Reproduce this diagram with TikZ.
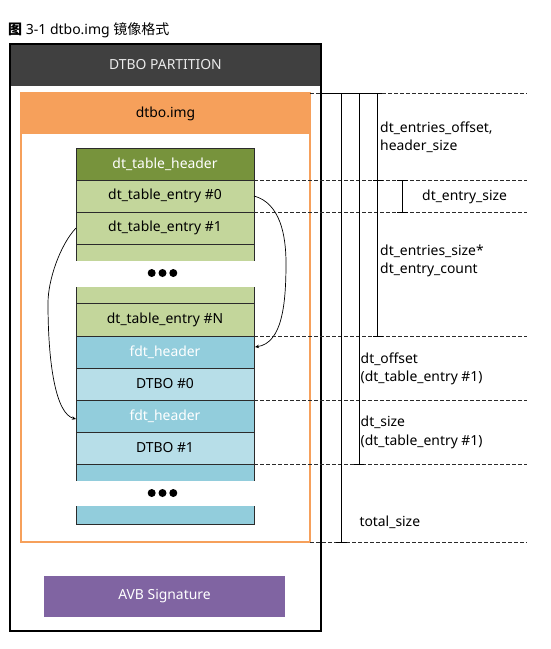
\documentclass[tikz,border=0pt]{standalone}
\usepackage{fontspec}
\setmainfont{Noto Sans}
\newfontfamily\cjk{Noto Sans CJK SC}
\usetikzlibrary{arrows.meta,calc}
\definecolor{darkhdr}{HTML}{404040}
\definecolor{orng}{HTML}{F6A05B}
\definecolor{dgreen}{HTML}{77933C}
\definecolor{lgreen}{HTML}{C3D69B}
\definecolor{bhdr}{HTML}{92CDDC}
\definecolor{lblue}{HTML}{B7DEE8}
\definecolor{purp}{HTML}{8064A2}
\definecolor{edge}{HTML}{2B2B2B}
\tikzset{
  txt/.style={font=\fontsize{13.9}{18.3}\selectfont},
  row/.style={minimum width=178pt, inner sep=0pt, outer sep=0pt, txt},
  dimtxt/.style={txt, anchor=west, align=left, inner sep=0pt},
  dashln/.style={edge, line width=0.7pt, dash pattern=on 4pt off 2pt},
  dimln/.style={black, line width=0.8pt},
  link/.style={black, line width=0.7pt, -{Stealth[length=4pt,width=3.5pt]}},
  dot/.style={circle, fill=black, inner sep=0pt, minimum size=8pt}
}
\begin{document}
\begin{tikzpicture}[x=1pt,y=-1pt]
\useasboundingbox (0,0) rectangle (551,649);
% title
\node[anchor=west, inner sep=0pt, font=\fontsize{14}{16}\selectfont] (title) at (8,30)
  {{\cjk\bfseries 图} \textbf{3-1} dtbo.img {\cjk 镜像格式}};
% outer partition
\fill[darkhdr] (10,44) rectangle (321,86);
\draw[black, line width=1.6pt] (10,44) rectangle (321,631);
\node[txt, text=white!92!black] (part) at (165.5,65) {DTBO PARTITION};
% dtbo.img
\fill[orng] (21,93) rectangle (310,134);
\draw[orng, line width=1.3pt] (21,93) rectangle (310,542);
\node[txt] (img) at (165.5,113.5) {dtbo.img};
% rows
\node[row, fill=dgreen, minimum height=32pt, text=white] (hdr) at (165,164) {dt\_table\_header};
\node[row, fill=lgreen, minimum height=32pt] (e0) at (165,196) {dt\_table\_entry \#0};
\node[row, fill=lgreen, minimum height=32pt] (e1) at (165,228) {dt\_table\_entry \#1};
\node[row, fill=lgreen, minimum height=17pt] (p1) at (165,252.5) {};
\node[row, fill=lgreen, minimum height=16pt] (p2) at (165,295) {};
\node[row, fill=lgreen, minimum height=33pt] (eN) at (165,319.5) {dt\_table\_entry \#N};
\node[row, fill=bhdr, minimum height=32pt, text=white] (f0) at (165,352) {fdt\_header};
\node[row, fill=lblue, minimum height=32pt] (d0) at (165,384) {DTBO \#0};
\node[row, fill=bhdr, minimum height=32pt, text=white] (f1) at (165,416) {fdt\_header};
\node[row, fill=lblue, minimum height=32pt] (d1) at (165,448) {DTBO \#1};
\node[row, fill=bhdr, minimum height=17pt] (p3) at (165,472.5) {};
\node[row, fill=bhdr, minimum height=18pt] (p4) at (165,515) {};
% row borders
\begin{scope}[edge, line width=0.9pt]
  \draw (hdr.south west) |- (hdr.north east) -- (p1.south east);
  \draw (hdr.south west) -- (p1.south west);
  \draw (p2.north west) -- (p3.south west);
  \draw (p2.north east) -- (p3.south east);
  \draw (p4.north west) -- (p4.south west) -- (p4.south east) -- (p4.north east);
  \foreach \n in {hdr,e0,e1,p2,eN,f0,d0,f1,d1} \draw (\n.south west) -- (\n.south east);
\end{scope}
% dots
\foreach \i/\x in {a/151.7,b/162.5,c/173.3} {
  \node[dot] (dA\i) at (\x,273) {};
  \node[dot] (dB\i) at (\x,493) {};
}
% AVB
\node[row, minimum width=241pt, minimum height=41pt, fill=purp, text=white] (avb) at (164.5,596.5) {AVB Signature};
% links
\draw[link] (e0.east) .. controls (280,203) and (286,235) .. (286,263)
  .. controls (286,305) and (282,343) .. ($(f0.east)+(1,-5)$);
\draw[link] (e1.west) .. controls (60,245) and (48,280) .. (48,303)
  .. controls (48,365) and (56,414) .. ($(f1.west)+(0,3)$);
% dashed extension lines
\coordinate (r0) at (527,93.5);
\coordinate (r1) at (527,180);
\coordinate (r2) at (527,212);
\coordinate (r3) at (527,336);
\coordinate (r4) at (527,400);
\coordinate (r5) at (527,464);
\coordinate (r6) at (527,542);
\draw[dashln] (310,93.5) -- (r0);
\draw[dashln] (hdr.south east) -- (r1);
\draw[dashln] (e0.south east) -- (r2);
\draw[dashln] (eN.south east) -- (r3);
\draw[dashln] (d0.south east) -- (r4);
\draw[dashln] (d1.south east) -- (r5);
\draw[dashln] (310,542) -- (r6);
% dimension lines
\draw[dimln] (341.7,93.5) -- (341.7,542);
\draw[dimln] (359,93.5) -- (359,464);
\draw[dimln] (377.7,93.5) -- (377.7,336);
\draw[dimln] (402.7,180) -- (402.7,212);
\draw[dimln] (320,93.5) -- (382,93.5);
\draw[dimln] (373,336) -- (383,336);
\draw[dimln] (373,180) -- (383,180);
\draw[dimln] (397,180) -- (408,180);
\draw[dimln] (397,212) -- (408,212);
\draw[dimln] (354,464) -- (364,464);
\draw[dimln] (336,542) -- (347,542);
% labels
\node[dimtxt] (l1) at (380,137.5) {dt\_entries\_offset,\\header\_size};
\node[dimtxt] (l2) at (422,196.5) {dt\_entry\_size};
\node[dimtxt] (l3) at (380,261) {dt\_entries\_size*\\dt\_entry\_count};
\node[dimtxt] (l4) at (360.5,368.5) {dt\_offset\\(dt\_table\_entry \#1)};
\node[dimtxt] (l5) at (360.5,432.5) {dt\_size\\(dt\_table\_entry \#1)};
\node[dimtxt] (l6) at (359.3,522.5) {total\_size};
\end{tikzpicture}
\end{document}
